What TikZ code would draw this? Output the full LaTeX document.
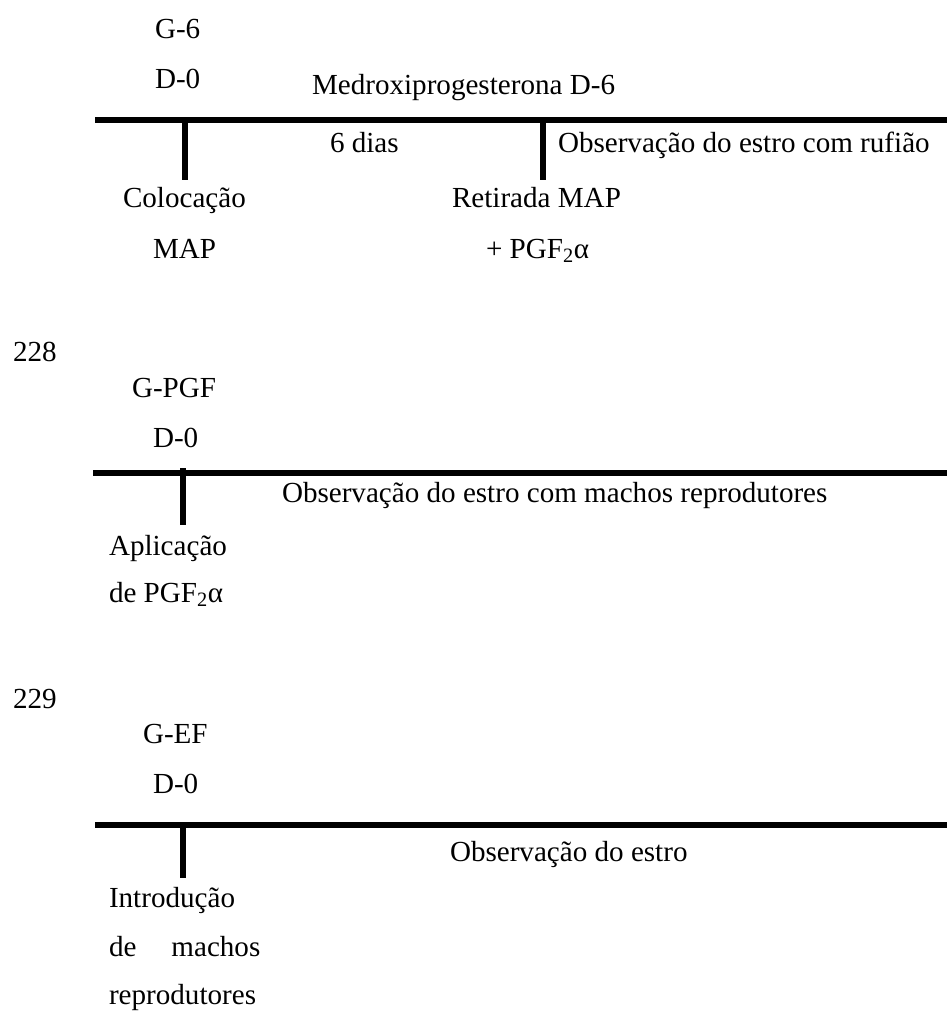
\documentclass[tikz,border=0pt]{standalone}
\usepackage{fontspec}
\setmainfont{Liberation Serif}
\begin{document}
\begin{tikzpicture}[x=1pt,y=-1pt,
  lbl/.style={anchor=base west,inner sep=0pt,outer sep=0pt,font=\fontsize{29.1}{35}\selectfont},
  axis/.style={line width=6.5pt,line cap=butt},
  tick/.style={line width=6pt,line cap=butt}]
\useasboundingbox (0,0) rectangle (947,1012);
% ---------- Panel 1 ----------
\node[lbl] (g6) at (155,38) {G-6};
\node[lbl] (d0a) at (155,88) {D-0};
\node[lbl] (medro) at (312,94) {Medroxiprogesterona D-6};
\coordinate (a1) at (95,120);
\coordinate (a2) at (947,120);
\draw[axis] (a1) -- (a2);
\coordinate (t1a) at (185,120);
\coordinate (t1b) at (185,180);
\draw[tick] (t1a) -- (t1b);
\coordinate (t2a) at (543,120);
\coordinate (t2b) at (543,180);
\draw[tick] (t2a) -- (t2b);
\node[lbl] (dias) at (330,152) {6 dias};
\node[lbl] (obs1) at (558,152) {Observação do estro com rufião};
\node[lbl] (coloc) at (123,207) {Colocação};
\node[lbl] (map) at (153,258) {MAP};
\node[lbl] (retir) at (452,207) {Retirada MAP};
\node[lbl] (pgf1) at (486,258) {+ PGF\textsubscript{2}α};
% ---------- Panel 2 ----------
\node[lbl] (n228) at (13,361) {228};
\node[lbl] (gpgf) at (132,397) {G-PGF};
\node[lbl] (d0b) at (153,447) {D-0};
\coordinate (b1) at (93,473);
\coordinate (b2) at (947,473);
\draw[axis] (b1) -- (b2);
\coordinate (t3a) at (183,468);
\coordinate (t3b) at (183,525);
\draw[tick] (t3a) -- (t3b);
\node[lbl] (obs2) at (282,502) {Observação do estro com machos reprodutores};
\node[lbl] (aplic) at (109,555) {Aplicação};
\node[lbl] (pgf2) at (109,602) {de PGF\textsubscript{2}α};
% ---------- Panel 3 ----------
\node[lbl] (n229) at (13,708) {229};
\node[lbl] (gef) at (143,743) {G-EF};
\node[lbl] (d0c) at (153,793) {D-0};
\coordinate (c1) at (95,825);
\coordinate (c2) at (947,825);
\draw[axis] (c1) -- (c2);
\coordinate (t4a) at (183,825);
\coordinate (t4b) at (183,878);
\draw[tick] (t4a) -- (t4b);
\node[lbl] (obs3) at (450,861) {Observação do estro};
\node[lbl] (intro) at (109,907) {Introdução};
\node[lbl] (machos) at (109,956) {de\hspace{35pt}machos};
\node[lbl] (repro) at (109,1004) {reprodutores};
\end{tikzpicture}
\end{document}
